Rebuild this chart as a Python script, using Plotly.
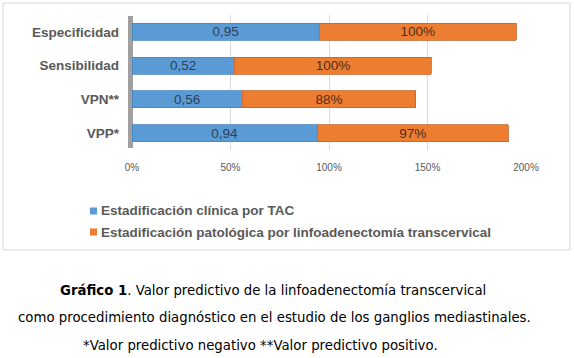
import plotly.graph_objects as go

categories = ["Especificidad", "Sensibilidad", "VPN**", "VPP*"]
clinica_tac = [0.95, 0.52, 0.56, 0.94]
patologica = [1.00, 1.00, 0.88, 0.97]
series_names = ["Estadificación clínica por TAC",
                "Estadificación patológica por linfoadenectomía transcervical"]
tick_vals = [0, 0.5, 1.0, 1.5, 2.0]
tick_text = ["0%", "50%", "100%", "150%", "200%"]

W, H = 574, 358
L, R, T, B = 132, 526, 15, 150  # plot area in pixels


def px(x):
    return (x - L) / (R - L)


def py(y):
    return (B - y) / (B - T)


blue = "#5B9BD5"
orange = "#ED7D31"
colors = [blue, orange]

fig = go.Figure()
fig.add_trace(go.Bar(
    y=categories, x=clinica_tac, orientation="h", name=series_names[0],
    marker=dict(color=blue, line=dict(color="#4a86be", width=0.8)),
    text=[f"{v:.2f}".replace(".", ",") for v in clinica_tac],
    textposition="inside", insidetextanchor="middle", textangle=0,
    constraintext="none",
    textfont=dict(family="Liberation Sans, Arial", size=13.5, color="#2f3f55"),
    showlegend=False,
))
fig.add_trace(go.Bar(
    y=categories, x=patologica, orientation="h", name=series_names[1],
    marker=dict(color=orange, line=dict(color="#c8652a", width=0.8)),
    text=[f"{v*100:.0f}%" for v in patologica],
    textposition="inside", insidetextanchor="middle", textangle=0,
    constraintext="none",
    textfont=dict(family="Liberation Sans, Arial", size=13.5, color="#4a3020"),
    showlegend=False,
))

shapes = [
    dict(type="rect", xref="paper", yref="paper",
         x0=px(3), x1=px(570), y0=py(3), y1=py(250),
         line=dict(color="#d9d9d9", width=1), fillcolor="rgba(0,0,0,0)", layer="below"),
    dict(type="rect", xref="paper", yref="paper",
         x0=px(128), x1=px(133), y0=py(148), y1=py(16),
         line=dict(width=0), fillcolor="#a0a0a0", layer="below"),
]

leg_font = dict(family="Liberation Sans, Arial", size=13.5, color="#595959", weight="bold")
annotations = []
for i, (name, c) in enumerate(zip(series_names, colors)):
    yc = 211 + 21 * i
    shapes.append(dict(type="rect", xref="paper", yref="paper",
                       x0=px(90), x1=px(97), y0=py(yc + 3.5), y1=py(yc - 3.5),
                       line=dict(width=0), fillcolor=c))
    annotations.append(dict(xref="paper", yref="paper", x=px(99), y=py(yc),
                            xanchor="left", yanchor="middle", text=f"<b>{name}</b>",
                            showarrow=False, font=leg_font))

cap_font = dict(family="DejaVu Sans, Verdana", size=13.3, color="#000000")
annotations += [
    dict(xref="paper", yref="paper", x=px(273), y=py(290), xanchor="center", yanchor="middle",
         text="<b>Gráfico 1</b>. Valor predictivo de la linfoadenectomía transcervical",
         showarrow=False, font=cap_font),
    dict(xref="paper", yref="paper", x=px(274), y=py(317), xanchor="center", yanchor="middle",
         text="como procedimiento diagnóstico en el estudio de los ganglios mediastinales.",
         showarrow=False, font=cap_font),
    dict(xref="paper", yref="paper", x=px(260), y=py(345), xanchor="center", yanchor="middle",
         text="*Valor predictivo negativo **Valor predictivo positivo.",
         showarrow=False, font=cap_font),
]

fig.update_layout(
    width=W, height=H,
    margin=dict(l=L, r=W - R, t=T, b=H - B, pad=0, autoexpand=False),
    paper_bgcolor="white", plot_bgcolor="white",
    barmode="stack", bargap=0.5,
    showlegend=False,
    xaxis=dict(range=[0, 2.0], tickvals=tick_vals, ticktext=tick_text,
               showgrid=True, gridcolor="#d9d9d9", gridwidth=1, zeroline=False,
               showline=False, ticks="", ticklabelstandoff=10,
               tickfont=dict(family="Liberation Sans, Arial", size=10, color="#595959")),
    yaxis=dict(categoryorder="array", categoryarray=categories, autorange="reversed",
               showgrid=False, zeroline=False, showline=False, ticks="",
               ticklabelstandoff=12,
               tickfont=dict(family="Liberation Sans, Arial", size=13.5, color="#595959",
                             weight="bold")),
    shapes=shapes,
    annotations=annotations,
)

fig.write_html("out.html", config={"displayModeBar": False},
               post_script="document.body.style.margin='0';")
